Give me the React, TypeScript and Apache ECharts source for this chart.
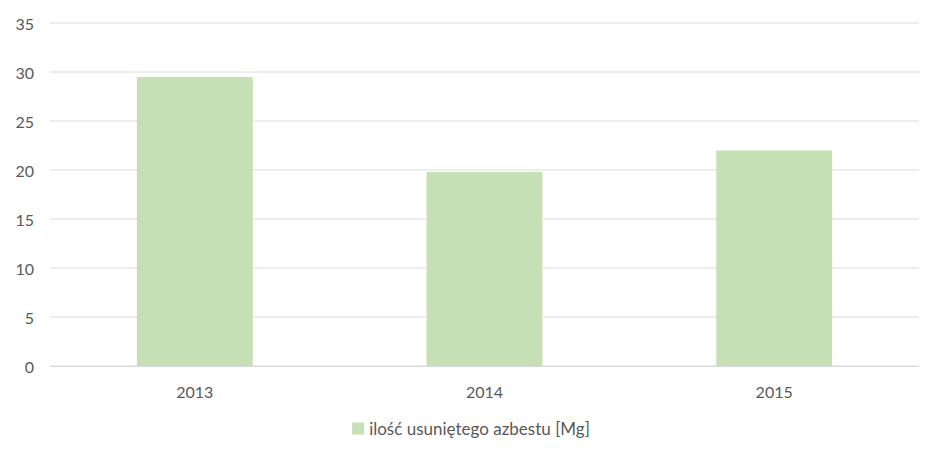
import * as echarts from 'echarts';
import { useEffect, useRef } from 'react';

const years = ['2013', '2014', '2015'];
const removedAsbestos = [29.5, 19.8, 22.0];
const seriesName = 'ilość usuniętego azbestu [Mg]';

function App() {
  const chartRef = useRef(null);

  useEffect(() => {
    const myChart = echarts.init(chartRef.current, null, { renderer: 'svg' });

    const textColor = '#595959';
    const font = 'Lato, "Open Sans", sans-serif';

    const option = {
      animation: false,
      grid: { left: 50, right: 23, top: 23, bottom: 96 },
      legend: {
        bottom: 20,
        left: 'center',
        icon: 'rect',
        itemWidth: 12,
        itemHeight: 12,
        itemGap: 6,
        textStyle: { color: textColor, fontSize: 17, fontFamily: font },
      },
      xAxis: {
        type: 'category',
        data: years,
        axisLine: { lineStyle: { color: '#d9d9d9', width: 1 } },
        axisTick: { show: false },
        axisLabel: { color: textColor, fontSize: 16, fontFamily: font, margin: 17 },
      },
      yAxis: {
        type: 'value',
        min: 0,
        max: 35,
        interval: 5,
        axisLine: { show: false },
        axisTick: { show: false },
        axisLabel: { color: textColor, fontSize: 16, fontFamily: font, margin: 16 },
        splitLine: { lineStyle: { color: '#e8e8e2', width: 1.5 } },
      },
      series: [
        {
          name: seriesName,
          type: 'bar',
          data: removedAsbestos,
          barWidth: '40%',
          itemStyle: { color: '#c5e0b4' },
        },
      ],
    };

    myChart.setOption(option);

    return () => {
      myChart.dispose();
    };
  }, []);

  return (
    <div
      ref={chartRef}
      style={{ position: 'fixed', left: 0, top: 0, width: '942px', height: '462px', background: '#fff' }}
    ></div>
  );
}

export default App;
